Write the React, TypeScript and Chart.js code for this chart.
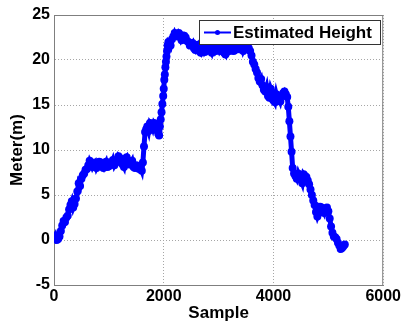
import React, { useEffect, useRef } from "react";
import { Chart, registerables } from "chart.js";

Chart.register(...registerables);

const samples = [
  0, 25, 50, 75, 100, 125, 150, 175, 200, 225, 250, 275, 300, 325, 350, 375, 400, 425, 450, 475,
  500, 525, 550, 575, 600, 625, 650, 675, 700, 725, 750, 775, 800, 825, 850, 875, 900, 925, 950, 975,
  1000, 1025, 1050, 1075, 1100, 1125, 1150, 1175, 1200, 1225, 1250, 1275, 1300, 1325, 1350, 1375,
  1400, 1425, 1450, 1475, 1500, 1525, 1550, 1575, 1600, 1620, 1640, 1660, 1680, 1700, 1725, 1750,
  1775, 1800, 1825, 1850, 1875, 1900, 1915, 1930, 1945, 1960, 1975, 1990, 2000, 2010, 2020, 2030,
  2040, 2050, 2060, 2070, 2085, 2100, 2125, 2150, 2175, 2200, 2225, 2250, 2275, 2300, 2325, 2350,
  2375, 2400, 2425, 2450, 2475, 2500, 2525, 2550, 2575, 2600, 2625, 2650, 2675, 2700, 2725, 2750,
  2775, 2800, 2825, 2850, 2875, 2900, 2925, 2950, 2975, 3000, 3025, 3050, 3075, 3100, 3125, 3150,
  3175, 3200, 3225, 3250, 3275, 3300, 3325, 3350, 3375, 3400, 3425, 3450, 3475, 3500, 3525, 3550,
  3575, 3600, 3625, 3650, 3675, 3700, 3725, 3750, 3775, 3800, 3825, 3850, 3875, 3900, 3925, 3950,
  3975, 4000, 4025, 4050, 4075, 4100, 4125, 4150, 4175, 4200, 4225, 4250, 4270, 4290, 4310, 4330,
  4350, 4375, 4400, 4425, 4450, 4475, 4500, 4525, 4550, 4575, 4600, 4625, 4650, 4675, 4700, 4725,
  4750, 4775, 4800, 4825, 4850, 4875, 4900, 4925, 4950, 4975, 5000, 5025, 5050, 5075, 5100, 5125,
  5150, 5175, 5200, 5225, 5250, 5275, 5300,
];

const heights = [
  0.2, 0.5, 0.0, 0.1, 0.4, 1.0, 1.6, 2.1, 2.0, 2.5, 2.7, 3.4, 3.9, 4.3, 3.6, 4.0, 4.6, 5.4, 6.3, 6.0,
  6.8, 7.2, 7.4, 7.8, 7.9, 8.3, 8.8, 8.5, 8.1, 8.4, 8.6, 8.0, 8.3, 8.7, 8.6, 8.2, 8.0, 8.4, 8.7, 8.1,
  8.2, 8.6, 8.5, 8.9, 8.3, 8.6, 8.8, 9.3, 9.1, 8.6, 8.4, 8.1, 9.0, 9.2, 8.7, 8.4,
  8.5, 8.8, 8.1, 8.0, 8.3, 8.2, 7.9, 8.1, 7.7, 8.6, 10.4, 12.0, 12.3, 12.6, 12.1, 13.0,
  12.8, 12.4, 13.0, 12.8, 12.2, 11.8, 11.6, 12.6, 13.4, 14.2, 15.1, 16.0, 16.8, 17.8, 18.4, 19.2,
  19.8, 20.4, 21.0, 21.6, 22.0, 21.9, 21.6, 22.3, 22.6, 23.0, 22.7, 22.6, 23.0, 22.8, 22.2, 22.4,
  22.7, 22.5, 22.1, 22.0, 21.6, 21.7, 21.9, 21.3, 21.1, 21.5, 21.7, 21.0, 20.8, 21.2, 21.5, 20.9,
  21.1, 21.4, 21.7, 21.1, 20.8, 21.3, 21.6, 21.0, 21.2, 21.5, 21.0, 21.2, 21.5, 20.8, 20.6, 21.3,
  21.6, 21.0, 21.2, 21.4, 21.0, 21.1, 21.6, 21.5, 21.2, 21.2, 21.6, 21.0, 21.3, 21.4, 21.7, 21.3,
  21.0, 20.5, 19.8, 19.5, 19.0, 18.6, 18.0, 17.6, 17.9, 17.2, 16.7, 16.5, 17.0, 16.0, 15.8, 16.8,
  16.4, 15.6, 15.3, 16.2, 15.6, 15.8, 15.4, 16.0, 16.3, 16.5, 16.2, 15.9, 14.8, 13.2, 11.5, 9.8,
  8.0, 7.4, 7.1, 6.8, 7.4, 7.0, 6.7, 6.3, 7.3, 7.1, 7.0, 6.6, 6.2, 5.6, 5.0, 4.4,
  3.9, 3.1, 2.6, 3.0, 3.7, 3.6, 3.3, 3.0, 3.5, 3.6, 3.2, 2.4, 1.5, 0.8, 0.4, 0.3,
  0.1, -0.3, -0.6, -1.0, -0.9, -0.7, -0.5,
];

const xTicks = [0, 2000, 4000, 6000];
const yTicks = [-5, 0, 5, 10, 15, 20, 25];
const seriesLabel = "Estimated Height";
const xTitle = "Sample";
const yTitle = "Meter(m)";

const FONT = "'Liberation Sans', Arial, Helvetica, sans-serif";
const BLUE = "#0000ff";

export default function App() {
  const ref = useRef<HTMLCanvasElement>(null);

  useEffect(() => {
    const canvas = ref.current;
    if (!canvas) return;

    const frame = {
      id: "matlabFrame",
      afterDraw(chart: any) {
        const { ctx, chartArea } = chart;
        const { left, right, top, bottom } = chartArea;
        ctx.save();
        ctx.strokeStyle = "#7f7f7f";
        ctx.lineWidth = 1;
        ctx.beginPath();
        ctx.moveTo(left, top + 0.5);
        ctx.lineTo(right, top + 0.5);
        ctx.moveTo(right - 0.5, top);
        ctx.lineTo(right - 0.5, bottom);
        ctx.stroke();

        // legend box
        const lx = 199.5, ly = 20.5, lw = 181, lh = 24;
        ctx.fillStyle = "#ffffff";
        ctx.fillRect(lx, ly, lw, lh);
        ctx.strokeStyle = "#333333";
        ctx.lineWidth = 1;
        ctx.strokeRect(lx, ly, lw, lh);
        const cy = ly + lh / 2;
        ctx.strokeStyle = BLUE;
        ctx.lineWidth = 2;
        ctx.beginPath();
        ctx.moveTo(204, cy);
        ctx.lineTo(231, cy);
        ctx.stroke();
        ctx.fillStyle = BLUE;
        ctx.beginPath();
        ctx.arc(217.5, cy, 2.5, 0, Math.PI * 2);
        ctx.fill();
        ctx.fillStyle = "#000000";
        ctx.font = `bold 17px ${FONT}`;
        ctx.textBaseline = "middle";
        ctx.textAlign = "left";
        ctx.fillText(chart.data.datasets[0].label, 233, cy + 1);
        ctx.restore();
      },
    };

    const tickFont = { family: FONT, size: 16, weight: "bold" as const };
    const titleFont = { family: FONT, size: 17, weight: "bold" as const };

    const chart = new Chart(canvas, {
      type: "line",
      data: {
        datasets: [
          {
            label: seriesLabel,
            data: samples.map((x, i) => ({ x, y: heights[i] })),
            borderColor: BLUE,
            backgroundColor: BLUE,
            borderWidth: 5,
            pointRadius: 4,
            pointBorderWidth: 0,
            pointBackgroundColor: BLUE,
            tension: 0,
          },
        ],
      },
      options: {
        animation: false,
        responsive: false,
        maintainAspectRatio: false,
        layout: { padding: { top: 15, right: 18, left: 0, bottom: 0 } },
        plugins: { legend: { display: false }, tooltip: { enabled: false } },
        scales: {
          x: {
            type: "linear",
            min: 0,
            max: 6000,
            afterBuildTicks: (s: any) => {
              s.ticks = xTicks.map((v) => ({ value: v }));
            },
            afterFit: (s: any) => {
              s.height = 39;
            },
            ticks: {
              font: tickFont,
              color: "#000",
              padding: 2,
              maxRotation: 0,
              autoSkip: false,
              callback: (v: any) => String(v),
            },
            grid: { color: "#a6a6a6", lineWidth: 1, drawTicks: false },
            border: { color: "#7f7f7f", width: 1, dash: [1, 2] },
            title: { display: true, text: xTitle, font: titleFont, color: "#000", padding: { top: 0, bottom: 0 } },
          },
          y: {
            type: "linear",
            min: -5,
            max: 25,
            afterBuildTicks: (s: any) => {
              s.ticks = yTicks.map((v) => ({ value: v }));
            },
            afterFit: (s: any) => {
              s.width = 54;
            },
            ticks: { font: tickFont, color: "#000", padding: 4, autoSkip: false, callback: (v: any) => String(v) },
            grid: { color: "#a6a6a6", lineWidth: 1, drawTicks: false },
            border: { color: "#7f7f7f", width: 1, dash: [1, 2] },
            title: { display: true, text: yTitle, font: titleFont, color: "#000", padding: { top: 7, bottom: 0 } },
          },
        },
      },
      plugins: [frame],
    });

    return () => chart.destroy();
  }, []);

  return (
    <div style={{ position: "absolute", left: 0, top: 0, width: 403, height: 324, background: "#fff" }}>
      <canvas ref={ref} width={403} height={324} style={{ display: "block", width: 403, height: 324 }} />
    </div>
  );
}
